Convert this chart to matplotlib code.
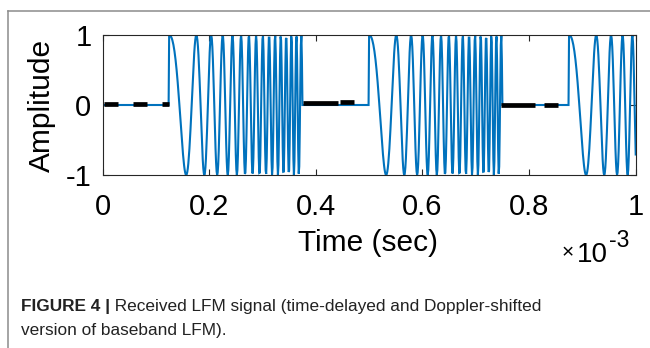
import numpy as np
import matplotlib
matplotlib.use("Agg")
import matplotlib.pyplot as plt
from matplotlib.lines import Line2D

# ---------------- data ----------------
pulse_start_ms = [0.125, 0.500, 0.875]   # start of each received LFM pulse
pulse_width_ms = 0.25                     # pulse duration
chirp_f_start_khz = 9.0                   # instantaneous frequency at pulse start
chirp_f_stop_khz = 113.0                  # instantaneous frequency at pulse end
sample_rate_mhz = 1.0
record_length_ms = 1.0

# thick black dashed segments lying on the zero line between pulses
seg_start_ms = [0.003, 0.058, 0.1115, 0.376, 0.445, 0.7465, 0.828]
seg_stop_ms = [0.030, 0.084, 0.124, 0.442, 0.471, 0.811, 0.855]
seg_level = [0.008, 0.008, 0.008, 0.033, 0.043, -0.006, -0.006]

xtick_ms = [0.0, 0.2, 0.4, 0.6, 0.8, 1.0]
xtick_labels = ["0", "0.2", "0.4", "0.6", "0.8", "1"]
ytick_vals = [-1, 0, 1]
ytick_labels = ["-1", "0", "1"]

x_label = "Time (sec)"
y_label = "Amplitude"
caption_bold = "FIGURE 4 |"
caption_line1 = " Received LFM signal (time-delayed and Doppler-shifted"
caption_line2 = "version of baseband LFM)."

# ---------------- build the sampled signal ----------------
fs = sample_rate_mhz * 1e6
n_samples = int(round(record_length_ms * 1e-3 * fs)) + 1
n = np.arange(n_samples)
t = n / fs
sig = np.zeros(n_samples)
T = pulse_width_ms * 1e-3
f0 = chirp_f_start_khz * 1e3
k = (chirp_f_stop_khz - chirp_f_start_khz) * 1e3 / T
n_width = int(round(T * fs))
for st in pulse_start_ms:
    i0 = int(round(st * 1e-3 * fs))
    idx = np.arange(i0, min(i0 + n_width, n_samples))
    tau = (idx - i0) / fs
    sig[idx] = np.cos(2 * np.pi * (f0 * tau + 0.5 * k * tau ** 2))

# ---------------- figure ----------------
W, H = 650, 348
fig = plt.figure(figsize=(W / 100, H / 100), dpi=100)
plt.rcParams["font.family"] = ["Liberation Sans", "DejaVu Sans"]

def px(x, y):
    return x / W, 1 - y / H

ax_l, ax_r, ax_t, ax_b = 102.5, 635.7, 35.0, 175.0
ax = fig.add_axes([ax_l / W, 1 - ax_b / H, (ax_r - ax_l) / W, (ax_b - ax_t) / H])

blue = "#0072BD"
ax.plot(t, sig, color=blue, lw=1.5, zorder=2, solid_joinstyle="miter")
ax.hlines(seg_level, np.array(seg_start_ms) * 1e-3, np.array(seg_stop_ms) * 1e-3,
          colors="black", lw=3.4, zorder=3)

ax.set_xlim(0, record_length_ms * 1e-3)
ax.set_ylim(-1, 1)
ax.set_xticks(np.array(xtick_ms) * 1e-3)
ax.set_xticklabels(xtick_labels)
ax.set_yticks(ytick_vals)
ax.set_yticklabels(ytick_labels)

axc = "#262626"
for s in ax.spines.values():
    s.set_color(axc)
    s.set_linewidth(0.8)
ax.tick_params(direction="in", length=4, width=0.8, color=axc,
               top=True, right=True, labelsize=21, labelcolor="black")
ax.tick_params(axis="x", pad=13)
ax.tick_params(axis="y", pad=8)

fs_lab = 21.5
fig.text(*px(368, 243), x_label, ha="center", va="center", fontsize=fs_lab)
fig.text(*px(42, 105), y_label, ha="center", va="center", rotation=90, fontsize=fs_lab)

# x10^-3 multiplier
fig.text(*px(574, 258), "\u00d7", ha="right", va="baseline", fontsize=15)
fig.text(*px(608, 262), "10", ha="right", va="baseline", fontsize=20)
fig.text(*px(609, 247), "-3", ha="left", va="baseline", fontsize=16.5)

# frame lines of the figure panel
fig.add_artist(Line2D([8 / W, 1.0], [1 - 11 / H, 1 - 11 / H], color="#8c8c8c", lw=1.1))
fig.add_artist(Line2D([8 / W, 8 / W], [1 - 11 / H, 0.0], color="#8c8c8c", lw=1.1))

# caption
cap_fs = 12.4
cap_y1, cap_y2 = 311, 335
tb = fig.text(*px(21, cap_y1), caption_bold, ha="left", va="baseline",
              fontsize=cap_fs, fontweight="bold", color="#222222")
fig.canvas.draw()
bb = tb.get_window_extent(renderer=fig.canvas.get_renderer())
fig.text(bb.x1 / W, 1 - cap_y1 / H, caption_line1, ha="left", va="baseline",
         fontsize=cap_fs, color="#222222")
fig.text(*px(21, cap_y2), caption_line2, ha="left", va="baseline",
         fontsize=cap_fs, color="#222222")

fig.savefig("out.png", dpi=100)
